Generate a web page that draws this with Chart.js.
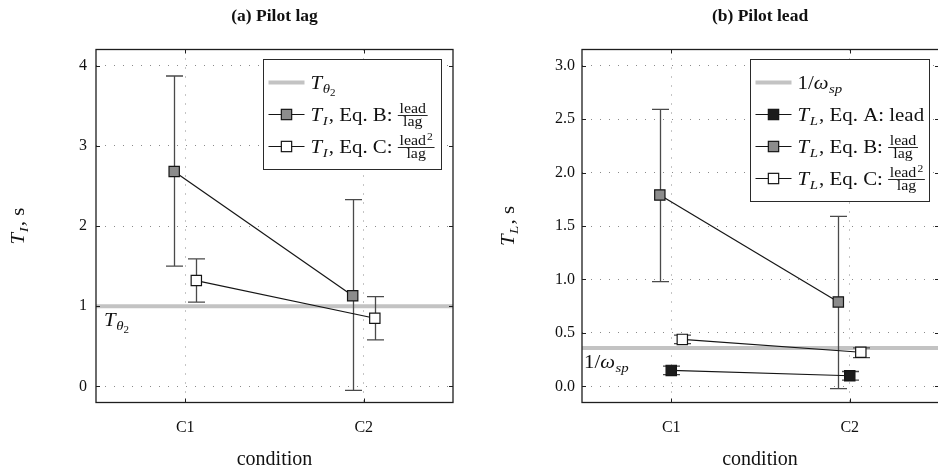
<!DOCTYPE html>
<html>
<head>
<meta charset="utf-8">
<script src="https://cdn.jsdelivr.net/npm/chart.js@4.4.1/dist/chart.umd.min.js"></script>
<style>
  html, body { margin: 0; padding: 0; background: #fff; overflow: hidden; width: 938px; height: 473px; }
  canvas { position: absolute; top: 0; }
  #lag { left: 0; }
  #lead { left: 469px; }
</style>
</head>
<body>
<canvas id="lag" width="469" height="473"></canvas>
<canvas id="lead" width="472" height="473"></canvas>
<script>
const categories = ['C1', 'C2'];

// (a) Pilot lag: time constants T_I with spread
const lagTicks = [0, 1, 2, 3, 4];
const lagEqB = [2.68, 1.13];
const lagEqBLow = [1.50, -0.05];
const lagEqBHigh = [3.87, 2.33];
const lagEqC = [1.32, 0.85];
const lagEqCLow = [1.05, 0.58];
const lagEqCHigh = [1.59, 1.12];
const lagRef = 1.0;            // T_theta2

// (b) Pilot lead: time constants T_L with spread
const leadTicks = [0, 0.5, 1, 1.5, 2, 2.5, 3];
const leadEqA = [0.15, 0.10];
const leadEqALow = [0.11, 0.06];
const leadEqAHigh = [0.19, 0.14];
const leadEqB = [1.79, 0.79];
const leadEqBLow = [0.98, -0.02];
const leadEqBHigh = [2.59, 1.59];
const leadEqC = [0.44, 0.32];
const leadEqCLow = [0.40, 0.27];
const leadEqCHigh = [0.48, 0.36];
const leadRef = 0.36;          // 1/omega_sp

const SERIF = '"Liberation Serif", "Times New Roman", serif';
const RM = s => `${s}px ${SERIF}`;
const IT = s => `italic ${s}px ${SERIF}`;
const STRETCH = 1.1;
const FRAC = 14.5;

// ---- small rich-text renderer (italic symbols, sub/superscripts, fractions) ----
function fracSize(ctx, p) {
  ctx.font = RM(FRAC);
  const nw = ctx.measureText(p.frac[0]).width;
  let sw = 0;
  if (p.frac[2]) { ctx.font = RM(10.5); sw = ctx.measureText(p.frac[2]).width + 1; }
  ctx.font = RM(FRAC);
  const dw = ctx.measureText(p.frac[1]).width;
  return { nw, sw, dw, fw: Math.max(nw + sw, dw) + 3 };
}
function richWidth(ctx, parts) {
  let w = 0;
  for (const p of parts) {
    if (p.frac) {
      w += fracSize(ctx, p).fw;
    } else {
      ctx.font = p.f;
      w += ctx.measureText(p.t).width + (p.gap || 0);
    }
  }
  return w;
}
function drawRich(ctx, x, y, parts, align) {
  ctx.save();
  ctx.translate(x, y);
  ctx.scale(STRETCH, 1);
  let cx = 0;
  if (align === 'center') cx = -richWidth(ctx, parts) / 2;
  ctx.textBaseline = 'alphabetic';
  ctx.textAlign = 'left';
  ctx.fillStyle = '#111';
  for (const p of parts) {
    if (p.frac) {
      const { nw, sw, dw, fw } = fracSize(ctx, p);
      const barY = -5;
      const nx = cx + 1.5 + (fw - 3 - nw - sw) / 2;
      ctx.font = RM(FRAC);
      ctx.fillText(p.frac[0], nx, barY - 2.5);
      ctx.fillText(p.frac[1], cx + 1.5 + (fw - 3 - dw) / 2, barY + 10.5);
      if (p.frac[2]) { ctx.font = RM(10.5); ctx.fillText(p.frac[2], nx + nw + 1, barY - 8); }
      ctx.fillRect(cx, barY - 0.4, fw, 0.9);
      cx += fw;
    } else {
      ctx.font = p.f;
      ctx.fillText(p.t, cx, p.dy || 0);
      cx += ctx.measureText(p.t).width + (p.gap || 0);
    }
  }
  ctx.restore();
}

const T = (sub) => [{ t: 'T', f: IT(19), gap: 0.5 }, { t: sub, f: IT(13.5), dy: 4, gap: 1 }];
const LABELS = {
  thetaRef: [{ t: 'T', f: IT(19), gap: 0.5 }, { t: 'θ', f: IT(13.5), dy: 4 }, { t: '2', f: RM(10), dy: 7 }],
  omegaRef: [{ t: '1/', f: RM(19) }, { t: 'ω', f: IT(19), gap: 0.5 }, { t: 'sp', f: IT(13.5), dy: 4 }],
  lagB: [...T('I'), { t: ', Eq. B: ', f: RM(19) }, { frac: ['lead', 'lag'] }],
  lagC: [...T('I'), { t: ', Eq. C: ', f: RM(19) }, { frac: ['lead', 'lag', '2'] }],
  leadA: [...T('L'), { t: ', Eq. A: lead', f: RM(19) }],
  leadB: [...T('L'), { t: ', Eq. B: ', f: RM(19) }, { frac: ['lead', 'lag'] }],
  leadC: [...T('L'), { t: ', Eq. C: ', f: RM(19) }, { frac: ['lead', 'lag', '2'] }],
  yLag: [...T('I'), { t: ', s', f: RM(19) }],
  yLead: [...T('L'), { t: ', s', f: RM(19) }]
};

const MARKER = 7.3;   // rect point radius (side ~ 10.3 px)
const FILLS = { A: '#1c1c1c', B: '#8c8c8c', C: '#ffffff' };

function series(label, values, low, high, offset, fill) {
  return {
    label,
    data: values.map((v, i) => ({ x: i + 1 + offset, y: v })),
    errLow: low,
    errHigh: high,
    errOffset: offset,
    showLine: true,
    borderColor: '#151515',
    borderWidth: 1.2,
    pointStyle: 'rect',
    pointRadius: MARKER,
    pointHoverRadius: MARKER,
    pointBackgroundColor: fill,
    pointBorderColor: '#151515',
    pointBorderWidth: 1.2
  };
}

// reference line + error bars underneath the series
const errorBarPlugin = {
  id: 'errorBars',
  beforeDatasetsDraw(chart, args, opts) {
    const { ctx, chartArea: a, scales: { x, y } } = chart;
    ctx.save();
    const ry = y.getPixelForValue(opts.ref);
    ctx.strokeStyle = '#c3c3c3';
    ctx.lineWidth = 4;
    ctx.beginPath(); ctx.moveTo(a.left, ry); ctx.lineTo(a.right, ry); ctx.stroke();
    ctx.strokeStyle = '#4a4a4a';
    ctx.lineWidth = 1.3;
    chart.data.datasets.forEach(ds => {
      ds.errLow.forEach((lo, i) => {
        const px = Math.round(x.getPixelForValue(i + 1 + ds.errOffset)) + 0.5;
        const y0 = y.getPixelForValue(lo), y1 = y.getPixelForValue(ds.errHigh[i]);
        ctx.beginPath();
        ctx.moveTo(px, y0); ctx.lineTo(px, y1);
        ctx.moveTo(px - 8.5, y0); ctx.lineTo(px + 8.5, y0);
        ctx.moveTo(px - 8.5, y1); ctx.lineTo(px + 8.5, y1);
        ctx.stroke();
      });
    });
    ctx.restore();
  },
  afterDatasetsDraw(chart, args, opts) {
    const { ctx, chartArea: a, scales: { x, y } } = chart;
    ctx.save();
    // frame and inward ticks
    ctx.strokeStyle = '#1e1e1e';
    ctx.lineWidth = 1.3;
    ctx.strokeRect(a.left, a.top, a.right - a.left, a.bottom - a.top);
    ctx.lineWidth = 1;
    ctx.beginPath();
    y.ticks.forEach(t => {
      const py = Math.round(y.getPixelForValue(t.value)) + 0.5;
      ctx.moveTo(a.left, py); ctx.lineTo(a.left + 4, py);
      ctx.moveTo(a.right, py); ctx.lineTo(a.right - 4, py);
    });
    x.ticks.forEach(t => {
      const px = Math.round(x.getPixelForValue(t.value)) + 0.5;
      ctx.moveTo(px, a.top); ctx.lineTo(px, a.top + 4);
      ctx.moveTo(px, a.bottom); ctx.lineTo(px, a.bottom - 4);
    });
    ctx.stroke();

    // label of the reference line
    const ry = y.getPixelForValue(opts.ref);
    drawRich(ctx, a.left + opts.refLabelDx, ry + 20, LABELS[opts.refLabel]);

    // legend
    const L = opts.legend;
    ctx.fillStyle = '#fff';
    ctx.fillRect(L.x, L.y, L.w, L.h);
    ctx.strokeStyle = '#2a2a2a';
    ctx.lineWidth = 1;
    ctx.strokeRect(L.x, L.y, L.w, L.h);
    L.rows.forEach((row, k) => {
      const ry2 = L.y + 23 + k * 32;
      const sx0 = L.x + 5, sx1 = L.x + 41;
      if (row.ref) {
        ctx.strokeStyle = '#c3c3c3'; ctx.lineWidth = 4;
        ctx.beginPath(); ctx.moveTo(sx0, ry2); ctx.lineTo(sx1, ry2); ctx.stroke();
      } else {
        ctx.strokeStyle = '#151515'; ctx.lineWidth = 1.2;
        ctx.beginPath(); ctx.moveTo(sx0, ry2); ctx.lineTo(sx1, ry2); ctx.stroke();
        const s = MARKER * Math.SQRT1_2;
        const mx = (sx0 + sx1) / 2;
        ctx.fillStyle = row.fill;
        ctx.fillRect(mx - s, ry2 - s, 2 * s, 2 * s);
        ctx.strokeRect(mx - s, ry2 - s, 2 * s, 2 * s);
      }
      drawRich(ctx, L.x + 47, ry2 + 6, LABELS[row.label]);
    });
    ctx.restore();
  },
  afterDraw(chart, args, opts) {
    const { ctx, chartArea: a } = chart;
    const cx = (a.left + Math.min(a.right, opts.titleRight)) / 2;
    ctx.save();
    ctx.fillStyle = '#111';
    ctx.font = `bold 17.5px ${SERIF}`;
    ctx.textAlign = 'center';
    ctx.textBaseline = 'middle';
    ctx.fillText(opts.title, cx, 16);
    ctx.font = RM(20);
    ctx.fillText('condition', cx, 460);
    ctx.translate(opts.yTitleX, (a.top + a.bottom) / 2);
    ctx.rotate(-Math.PI / 2);
    drawRich(ctx, 0, 6, LABELS[opts.yTitle], 'center');
    ctx.restore();
  }
};

// keep the plot area exactly where the layout padding puts it
function noScalePadding(s) {
  s.paddingLeft = 0; s.paddingRight = 0; s.paddingTop = 0; s.paddingBottom = 0;
}

function makeChart(id, datasets, yMin, yMax, yTicks, yFmt, cfg) {
  return new Chart(document.getElementById(id), {
    type: 'scatter',
    data: { datasets },
    plugins: [errorBarPlugin],
    options: {
      responsive: false,
      animation: false,
      events: [],
      layout: { padding: cfg.padding, autoPadding: false },
      plugins: {
        legend: { display: false },
        tooltip: { enabled: false },
        title: { display: false },
        errorBars: cfg.plugin
      },
      scales: {
        x: {
          type: 'linear', min: 0.5, max: 2.5,
          afterBuildTicks: s => { s.ticks = categories.map((c, i) => ({ value: i + 1 })); },
          afterFit: s => { s.height = 40; noScalePadding(s); },
          ticks: { callback: v => categories[v - 1], font: { family: SERIF, size: 16 }, color: '#111', padding: 16, maxRotation: 0 },
          grid: { color: '#8a8a8a', lineWidth: 1, drawTicks: false, tickLength: 0 },
          border: { display: false, dash: [1, 8] }
        },
        y: {
          type: 'linear', min: yMin, max: yMax,
          afterBuildTicks: s => { s.ticks = yTicks.map(v => ({ value: v })); },
          afterFit: s => { s.width = 50; noScalePadding(s); },
          ticks: { callback: yFmt, font: { family: SERIF, size: 16 }, color: '#111', padding: cfg.yPad },
          grid: { color: '#8a8a8a', lineWidth: 1, drawTicks: false, tickLength: 0 },
          border: { display: false, dash: [1, 8] }
        }
      }
    }
  });
}

makeChart('lag', [
  series('T_I, Eq. B', lagEqB, lagEqBLow, lagEqBHigh, -0.062, FILLS.B),
  series('T_I, Eq. C', lagEqC, lagEqCLow, lagEqCHigh, 0.062, FILLS.C)
], -0.2, 4.2, lagTicks, v => String(v), {
  padding: { left: 46, right: 16, top: 49.5, bottom: 30.5 },
  yPad: 9,
  plugin: {
    ref: lagRef, refLabel: 'thetaRef', refLabelDx: 8,
    title: '(a) Pilot lag', titleRight: 1e9, yTitleX: 18, yTitle: 'yLag',
    legend: { x: 263.5, y: 59.5, w: 178, h: 110, rows: [
      { ref: true, label: 'thetaRef' },
      { fill: FILLS.B, label: 'lagB' },
      { fill: FILLS.C, label: 'lagC' }
    ] }
  }
});

makeChart('lead', [
  series('T_L, Eq. A', leadEqA, leadEqALow, leadEqAHigh, 0, FILLS.A),
  series('T_L, Eq. B', leadEqB, leadEqBLow, leadEqBHigh, -0.064, FILLS.B),
  series('T_L, Eq. C', leadEqC, leadEqCLow, leadEqCHigh, 0.062, FILLS.C)
], -0.15, 3.15, leadTicks, v => v.toFixed(1), {
  padding: { left: 63, right: 2, top: 49.5, bottom: 30.5 },
  yPad: 7,
  plugin: {
    ref: leadRef, refLabel: 'omegaRef', refLabelDx: 2,
    title: '(b) Pilot lead', titleRight: 469, yTitleX: 39, yTitle: 'yLead',
    legend: { x: 281.5, y: 59.5, w: 179, h: 142, rows: [
      { ref: true, label: 'omegaRef' },
      { fill: FILLS.A, label: 'leadA' },
      { fill: FILLS.B, label: 'leadB' },
      { fill: FILLS.C, label: 'leadC' }
    ] }
  }
});
</script>
</body>
</html>
